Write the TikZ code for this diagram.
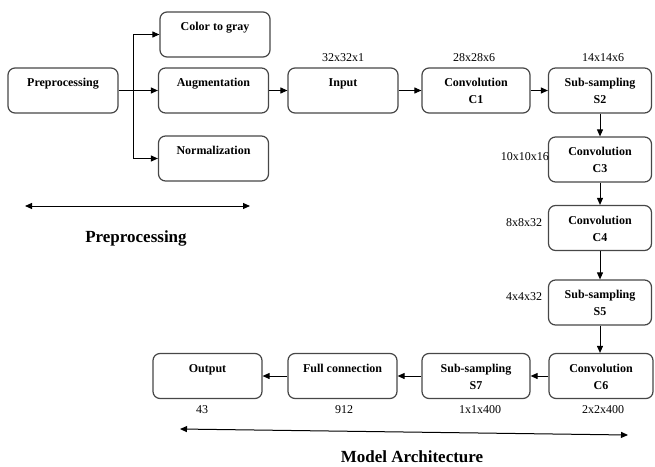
\documentclass[tikz,border=0pt]{standalone}
\usepackage{fontspec}
\setmainfont{Liberation Serif}
\usetikzlibrary{arrows.meta}

\tikzset{
  stage/.style={draw=black!72, line width=1.2pt, rounded corners=7pt,
    minimum width=#1, minimum height=45pt, inner sep=0pt},
  stage/.default=110pt,
  stagetext/.style={anchor=north, inner sep=0pt, align=center,
    font=\bfseries\fontsize{12}{17}\selectfont},
  dims/.style={inner sep=0pt, font=\fontsize{12}{14}\selectfont},
  flow/.style={line width=1pt, -{Triangle[length=7pt,width=6pt]}},
  span/.style={line width=1pt, {Triangle[length=7pt,width=6pt]}-{Triangle[length=7pt,width=6pt]}},
  heading/.style={inner sep=0pt, font=\bfseries\fontsize{17}{20}\selectfont}
}

\begin{document}
\begin{tikzpicture}[x=1pt,y=-1pt]
\useasboundingbox (0,0) rectangle (655,466);

% preprocessing branch
\node[stage] (pre) at (63,90.5) {};
\node[stagetext] (pret) at ([yshift=-11pt]pre.north) {Preprocessing};
\node[stage] (gray) at (215,34.5) {};
\node[stagetext] (grayt) at ([yshift=-11pt]gray.north) {Color to gray};
\node[stage] (aug) at (213.5,90.5) {};
\node[stagetext] (augt) at ([yshift=-11pt]aug.north) {Augmentation};
\node[stage] (norm) at (213.5,158.5) {};
\node[stagetext] (normt) at ([yshift=-11pt]norm.north) {Normalization};

% network, top row
\node[stage] (inp) at (343,90.5) {};
\node[stagetext] (inpt) at ([yshift=-11pt]inp.north) {Input};
\node[stage=108pt] (c1) at (476,90.5) {};
\node[stagetext] (c1t) at ([yshift=-11pt]c1.north) {Convolution\\C1};
\node[stage=103pt] (s2) at (600,90.5) {};
\node[stagetext] (s2t) at ([yshift=-11pt]s2.north) {Sub-sampling\\S2};

% network, right column
\node[stage=103pt] (c3) at (600,159.5) {};
\node[stagetext] (c3t) at ([yshift=-11pt]c3.north) {Convolution\\C3};
\node[stage=103pt] (c4) at (600,228) {};
\node[stagetext] (c4t) at ([yshift=-11pt]c4.north) {Convolution\\C4};
\node[stage=103pt] (s5) at (600,302.5) {};
\node[stagetext] (s5t) at ([yshift=-11pt]s5.north) {Sub-sampling\\S5};

% network, bottom row
\node[stage=104pt] (c6) at (601,376) {};
\node[stagetext] (c6t) at ([yshift=-11pt]c6.north) {Convolution\\C6};
\node[stage=108pt] (s7) at (476,376) {};
\node[stagetext] (s7t) at ([yshift=-11pt]s7.north) {Sub-sampling\\S7};
\node[stage=109pt] (fc) at (342.5,376) {};
\node[stagetext] (fct) at ([yshift=-11pt]fc.north) {Full connection};
\node[stage=109pt] (out) at (207.5,376) {};
\node[stagetext] (outt) at ([yshift=-11pt]out.north) {Output};

% layer sizes
\node[dims] (d1) at (343,58) {32x32x1};
\node[dims] (d2) at (474,58) {28x28x6};
\node[dims] (d3) at (603,58) {14x14x6};
\node[dims, anchor=east] (d4) at (549,157) {10x10x16};
\node[dims] (d5) at (524,223) {8x8x32};
\node[dims] (d6) at (524,297) {4x4x32};
\node[dims] (d7) at (603,410) {2x2x400};
\node[dims] (d8) at (480,410) {1x1x400};
\node[dims] (d9) at (344,410) {912};
\node[dims] (d10) at (202,410) {43};

% fan-out from preprocessing
\coordinate (fork) at (133,90.5);
\draw[line width=1pt] (pre.east) -- (fork);
\draw[flow] (fork |- gray.west) -- (gray.west);
\draw[flow] (fork) -- (aug.west);
\draw[flow] (fork |- norm.west) -- (norm.west);
\draw[line width=1pt] (fork |- gray.west) -- (fork |- norm.west);

% network flow
\draw[flow] (aug) -- (inp);
\draw[flow] (inp) -- (c1);
\draw[flow] (c1) -- (s2);
\draw[flow] (s2) -- (c3);
\draw[flow] (c3) -- (c4);
\draw[flow] (c4) -- (s5);
\draw[flow] (s5.south) -- (c6.north -| s5.south);
\draw[flow] (c6) -- (s7);
\draw[flow] (s7) -- (fc);
\draw[flow] (fc) -- (out);

% span markers and headings
\coordinate (pa) at (25,206);
\coordinate (pb) at (250,206);
\draw[span] (pa) -- (pb);
\node[heading] (preh) at (136,238) {Preprocessing};

\coordinate (ma) at (180,429);
\coordinate (mb) at (628,435);
\draw[span] (ma) -- (mb);
\node[heading] (modh) at (412,456.5) {Model Architecture};
\end{tikzpicture}
\end{document}
